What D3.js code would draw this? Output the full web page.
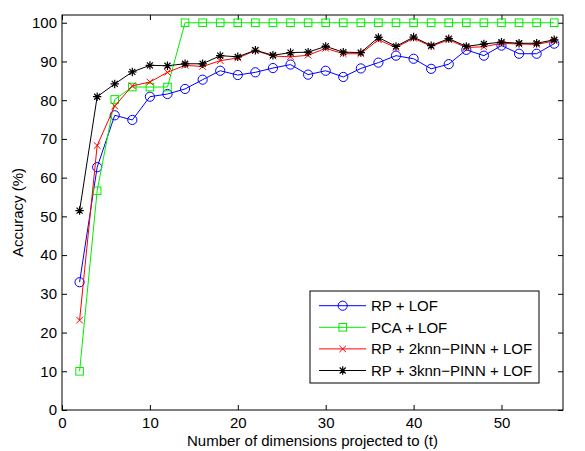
<!DOCTYPE html>
<html><head><meta charset="utf-8">
<script src="https://cdn.jsdelivr.net/npm/d3@7"></script>
<style>body{margin:0;background:#fff}svg{display:block}</style>
</head><body>
<script>
const dims = [2,4,6,8,10,12,14,16,18,20,22,24,26,28,30,32,34,36,38,40,42,44,46,48,50,52,54,56];
const rpLof = [33,62.7,76.1,74.9,80.9,81.6,82.9,85.3,87.6,86.5,87.2,88.3,89.2,86.6,87.6,86.0,88.2,89.7,91.5,90.7,88.1,89.3,93.0,91.5,94.1,92.0,92.0,94.6];
const pcaLof = [10,56.6,80.2,83.4,83.4,83.4,100,100,100,100,100,100,100,100,100,100,100,100,100,100,100,100,100,100,100,100,100,100];
const rp2knn = [23.2,68.3,78.5,83.7,84.7,87.2,89.0,88.7,90.2,90.9,92.8,91.4,91.2,91.6,93.4,92.0,92.0,95.6,93.6,96.0,93.9,95.6,93.6,93.8,94.7,94.5,94.4,95.3];
const rp3knn = [51.5,80.9,84.2,87.3,89.0,88.9,89.4,89.4,91.5,91.2,92.9,91.6,92.3,92.4,93.9,92.4,92.3,96.2,93.9,96.3,94.1,95.9,93.9,94.5,95.0,94.7,94.7,95.6];
const seriesNames = ["RP + LOF","PCA + LOF","RP + 2knn\u2212PINN + LOF","RP + 3knn\u2212PINN + LOF"];
const xTicks = [0,10,20,30,40,50];
const yTicks = [0,10,20,30,40,50,60,70,80,90,100];

const W=585,H=451;
const m={l:62,t:15,r:22,b:41};
const FS=15;
const svg=d3.select("body").append("svg").attr("width",W).attr("height",H)
  .style("font-family","'Liberation Sans',Arial,Helvetica,sans-serif");
const x=d3.scaleLinear().domain([0,57]).range([m.l,W-m.r]);
const y=d3.scaleLinear().domain([0,102]).range([H-m.b,m.t]);
const g=svg.append("g");

const ax=(gen,tr)=>g.append("g").attr("transform",tr).call(gen);
const fmt=d=>d;
const axB=ax(d3.axisBottom(x).tickValues(xTicks).tickSize(-5).tickPadding(7).tickFormat(fmt),`translate(0,${y(0)})`);
const axT=ax(d3.axisTop(x).tickValues(xTicks).tickSize(-5).tickFormat(""),`translate(0,${y(102)})`);
const axL=ax(d3.axisLeft(y).tickValues(yTicks).tickSize(-5).tickPadding(5).tickFormat(fmt),`translate(${x(0)},0)`);
const axR=ax(d3.axisRight(y).tickValues(yTicks).tickSize(-5).tickFormat(""),`translate(${x(57)},0)`);
[axB,axT,axL,axR].forEach(a=>{a.select(".domain").remove();a.selectAll("line").attr("stroke","#000");
  a.selectAll("text").attr("font-size",FS).attr("fill","#000").attr("font-family","'Liberation Sans',Arial,sans-serif");});
g.append("rect").attr("x",x(0)).attr("y",y(102)).attr("width",x(57)-x(0)).attr("height",y(0)-y(102))
  .attr("fill","none").attr("stroke","#000").attr("stroke-width",1);

const colors=["#0000ff","#00ee00","#ff0000","#000000"];
const data=[rpLof,pcaLof,rp2knn,rp3knn];
const line=d3.line().x((d,i)=>x(dims[i])).y(d=>y(d));

function marker(sel,type,c){
  if(type===0){sel.append("circle").attr("r",4.6).attr("fill","none").attr("stroke",c).attr("stroke-width",1);}
  else if(type===1){sel.append("rect").attr("x",-3.8).attr("y",-3.8).attr("width",7.6).attr("height",7.6).attr("fill","none").attr("stroke",c).attr("stroke-width",1);}
  else if(type===2){const s=3.3;sel.append("path").attr("d",`M${-s},${-s}L${s},${s}M${-s},${s}L${s},${-s}`).attr("stroke",c).attr("stroke-width",1);}
  else {const s=4.2,d=3;sel.append("path").attr("d",`M0,${-s}V${s}M${-s},0H${s}M${-d},${-d}L${d},${d}M${-d},${d}L${d},${-d}`).attr("stroke",c).attr("stroke-width",1.2);}
}

data.forEach((vals,k)=>{
  g.append("path").datum(vals).attr("d",line).attr("fill","none").attr("stroke",colors[k]).attr("stroke-width",1);
  vals.forEach((v,i)=>{const mg=g.append("g").attr("transform",`translate(${x(dims[i])},${y(v)})`);marker(mg,k,colors[k]);});
});

svg.append("text").attr("x",(m.l+W-m.r)/2).attr("y",446).attr("text-anchor","middle").attr("font-size",FS).text("Number of dimensions projected to (t)");
svg.append("text").attr("transform",`translate(23,${(m.t+H-m.b)/2}) rotate(-90)`).attr("text-anchor","middle").attr("font-size",FS).text("Accuracy (%)");

const lg=svg.append("g");
lg.append("rect").attr("x",310).attr("y",291).attr("width",229).attr("height",92).attr("fill","#fff").attr("stroke","#000").attr("stroke-width",1);
seriesNames.forEach((n,k)=>{
  const yy=305.7+k*21.6;
  lg.append("line").attr("x1",319).attr("x2",366).attr("y1",yy).attr("y2",yy).attr("stroke",colors[k]).attr("stroke-width",1);
  const mg=lg.append("g").attr("transform",`translate(342.7,${yy})`);marker(mg,k,colors[k]);
  lg.append("text").attr("x",371).attr("y",yy+5.5).attr("font-size",FS).text(n);
});
</script>
</body></html>
